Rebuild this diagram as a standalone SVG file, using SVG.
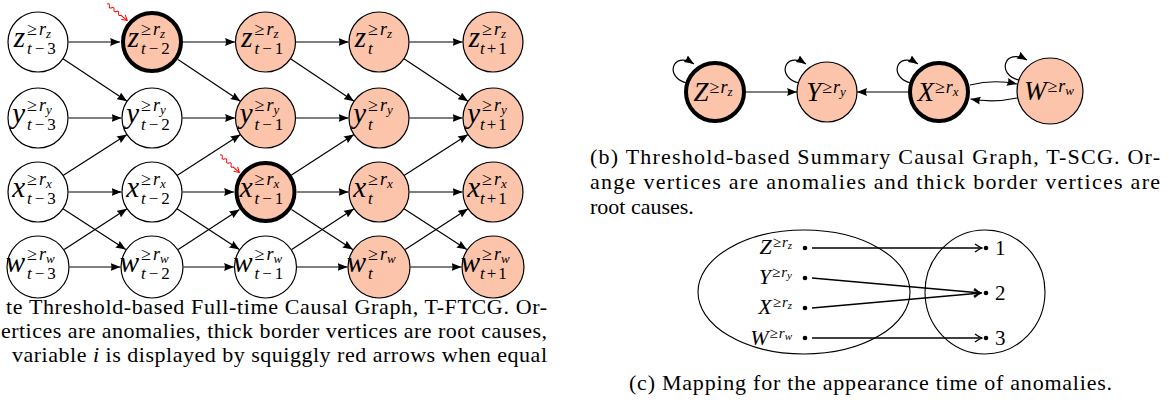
<svg xmlns="http://www.w3.org/2000/svg" width="1171" height="408" viewBox="0 0 1171 408">
<style>
text{font-family:"Liberation Serif","DejaVu Serif",serif;fill:#000}
.i{font-style:italic}
.m{font-style:italic;font-size:29px}
.sp{font-size:18px}
.sb{font-size:17px}
.cap{font-size:22px}
.nd{stroke:#000;stroke-width:1.2}
.an{fill:#fbc4ab}
.wh{fill:#fff}
.rc{stroke-width:4}
.e{stroke:#000;stroke-width:1.2;fill:none;marker-end:url(#ar)}
.e2{stroke:#000;stroke-width:1.5;fill:none;marker-end:url(#to)}
.sq{stroke:#f00;stroke-width:1;fill:none}
</style>
<defs>
<marker id="ar" viewBox="0 0 10 8" refX="10" refY="4" markerWidth="10" markerHeight="8" markerUnits="userSpaceOnUse" orient="auto"><path d="M0,0 L10,4 L0,8 Q2,4 0,0 z" fill="#000"/></marker>
<marker id="to" viewBox="0 0 9 10" refX="8" refY="5" markerWidth="9" markerHeight="10" markerUnits="userSpaceOnUse" orient="auto"><path d="M1,1 Q5,4 8,5 Q5,6 1,9" fill="none" stroke="#000" stroke-width="1.3"/></marker>
</defs>

<!-- Panel (a) connectors -->
<g id="edges-a">
<path class="e" d="M68.5,42 L120,42"/><path class="e" d="M183,42 L235,42"/><path class="e" d="M296,42 L348.5,42"/><path class="e" d="M409.5,42 L462.5,42"/>
<path class="e" d="M68.5,118 L121.5,118"/><path class="e" d="M182.5,118 L235,118"/><path class="e" d="M296,118 L348.5,118"/><path class="e" d="M409.5,118 L462.5,118"/>
<path class="e" d="M68.5,192 L121.5,192"/><path class="e" d="M182.5,192 L234,192"/><path class="e" d="M297,192 L348.5,192"/><path class="e" d="M409.5,192 L462.5,192"/>
<path class="e" d="M69.5,267 L120.5,267"/><path class="e" d="M183.5,267 L234,267"/><path class="e" d="M297,267 L347.5,267"/><path class="e" d="M410.5,267 L461.5,267"/>
<path class="e" d="M63,58.7 L127,101.3"/><path class="e" d="M178,59.5 L240.5,101.3"/><path class="e" d="M290.5,58.7 L354,101.3"/><path class="e" d="M404,58.7 L468,101.3"/>
<path class="e" d="M63,175.6 L127,134.4"/><path class="e" d="M177,175.6 L240.5,134.4"/><path class="e" d="M291.5,175 L354,134.4"/><path class="e" d="M404,175.6 L468,134.4"/>
<path class="e" d="M63,208.7 L125.8,249.6"/><path class="e" d="M177,208.7 L239.4,249.6"/><path class="e" d="M291.5,209.5 L352.8,249.6"/><path class="e" d="M404,208.7 L466.8,249.6"/>
<path class="e" d="M64.2,249.6 L127,208.7"/><path class="e" d="M178.2,249.6 L239.5,209.5"/><path class="e" d="M291.7,249.6 L354,208.7"/><path class="e" d="M405.2,249.6 L468,208.7"/>
<g transform="translate(107,4) rotate(39)"><path class="sq" d="M0,0 q1.5,-2.6 3,0 t3,0 t3,0 t3,0 t3,0 t3,0 l8,0"/><path class="sq" d="M21,-3 L26,0 L21,3"/></g>
<g transform="translate(220,155) rotate(42)"><path class="sq" d="M0,0 q1.5,-2.6 3,0 t3,0 t3,0 t3,0 t3,0 t3,0 l8,0"/><path class="sq" d="M21,-3 L26,0 L21,3"/></g>
</g>

<!-- Panel (a) nodes -->
<g id="z-t-3"><circle class="nd wh" cx="38" cy="42" r="30"/><text class="m" x="25" y="47" text-anchor="end">z</text><text class="sp" x="27" y="35">≥<tspan class="i" dx="2">r</tspan><tspan class="i" font-size="13" dy="3">z</tspan></text><text class="sb" x="27" y="54"><tspan class="i">t</tspan><tspan dx="3">−</tspan><tspan dx="3">3</tspan></text></g>
<g id="z-t-2"><circle class="nd an rc" cx="152" cy="42" r="29"/><text class="m" x="139" y="47" text-anchor="end">z</text><text class="sp" x="141" y="35">≥<tspan class="i" dx="2">r</tspan><tspan class="i" font-size="13" dy="3">z</tspan></text><text class="sb" x="141" y="54"><tspan class="i">t</tspan><tspan dx="3">−</tspan><tspan dx="3">2</tspan></text></g>
<g id="z-t-1"><circle class="nd an" cx="265.5" cy="42" r="30"/><text class="m" x="252.5" y="47" text-anchor="end">z</text><text class="sp" x="254.5" y="35">≥<tspan class="i" dx="2">r</tspan><tspan class="i" font-size="13" dy="3">z</tspan></text><text class="sb" x="254.5" y="54"><tspan class="i">t</tspan><tspan dx="3">−</tspan><tspan dx="3">1</tspan></text></g>
<g id="z-t"><circle class="nd an" cx="379" cy="42" r="30"/><text class="m" x="366" y="47" text-anchor="end">z</text><text class="sp" x="368" y="35">≥<tspan class="i" dx="2">r</tspan><tspan class="i" font-size="13" dy="3">z</tspan></text><text class="sb i" x="368" y="54">t</text></g>
<g id="z-t+1"><circle class="nd an" cx="493" cy="42" r="30"/><text class="m" x="480" y="47" text-anchor="end">z</text><text class="sp" x="482" y="35">≥<tspan class="i" dx="2">r</tspan><tspan class="i" font-size="13" dy="3">z</tspan></text><text class="sb" x="480" y="54"><tspan class="i">t</tspan><tspan dx="2">+</tspan><tspan dx="2">1</tspan></text></g>

<g id="y-t-3"><circle class="nd wh" cx="38" cy="118" r="30"/><text class="m" x="25" y="123" text-anchor="end">y</text><text class="sp" x="27" y="111">≥<tspan class="i" dx="2">r</tspan><tspan class="i" font-size="13" dy="3">y</tspan></text><text class="sb" x="27" y="130"><tspan class="i">t</tspan><tspan dx="3">−</tspan><tspan dx="3">3</tspan></text></g>
<g id="y-t-2"><circle class="nd wh" cx="152" cy="118" r="30"/><text class="m" x="139" y="123" text-anchor="end">y</text><text class="sp" x="141" y="111">≥<tspan class="i" dx="2">r</tspan><tspan class="i" font-size="13" dy="3">y</tspan></text><text class="sb" x="141" y="130"><tspan class="i">t</tspan><tspan dx="3">−</tspan><tspan dx="3">2</tspan></text></g>
<g id="y-t-1"><circle class="nd an" cx="265.5" cy="118" r="30"/><text class="m" x="252.5" y="123" text-anchor="end">y</text><text class="sp" x="254.5" y="111">≥<tspan class="i" dx="2">r</tspan><tspan class="i" font-size="13" dy="3">y</tspan></text><text class="sb" x="254.5" y="130"><tspan class="i">t</tspan><tspan dx="3">−</tspan><tspan dx="3">1</tspan></text></g>
<g id="y-t"><circle class="nd an" cx="379" cy="118" r="30"/><text class="m" x="366" y="123" text-anchor="end">y</text><text class="sp" x="368" y="111">≥<tspan class="i" dx="2">r</tspan><tspan class="i" font-size="13" dy="3">y</tspan></text><text class="sb i" x="368" y="130">t</text></g>
<g id="y-t+1"><circle class="nd an" cx="493" cy="118" r="30"/><text class="m" x="480" y="123" text-anchor="end">y</text><text class="sp" x="482" y="111">≥<tspan class="i" dx="2">r</tspan><tspan class="i" font-size="13" dy="3">y</tspan></text><text class="sb" x="480" y="130"><tspan class="i">t</tspan><tspan dx="2">+</tspan><tspan dx="2">1</tspan></text></g>

<g id="x-t-3"><circle class="nd wh" cx="38" cy="192" r="30"/><text class="m" x="25" y="197" text-anchor="end">x</text><text class="sp" x="27" y="185">≥<tspan class="i" dx="2">r</tspan><tspan class="i" font-size="13" dy="3">x</tspan></text><text class="sb" x="27" y="204"><tspan class="i">t</tspan><tspan dx="3">−</tspan><tspan dx="3">3</tspan></text></g>
<g id="x-t-2"><circle class="nd wh" cx="152" cy="192" r="30"/><text class="m" x="139" y="197" text-anchor="end">x</text><text class="sp" x="141" y="185">≥<tspan class="i" dx="2">r</tspan><tspan class="i" font-size="13" dy="3">x</tspan></text><text class="sb" x="141" y="204"><tspan class="i">t</tspan><tspan dx="3">−</tspan><tspan dx="3">2</tspan></text></g>
<g id="x-t-1"><circle class="nd an rc" cx="265.5" cy="192" r="29"/><text class="m" x="252.5" y="197" text-anchor="end">x</text><text class="sp" x="254.5" y="185">≥<tspan class="i" dx="2">r</tspan><tspan class="i" font-size="13" dy="3">x</tspan></text><text class="sb" x="254.5" y="204"><tspan class="i">t</tspan><tspan dx="3">−</tspan><tspan dx="3">1</tspan></text></g>
<g id="x-t"><circle class="nd an" cx="379" cy="192" r="30"/><text class="m" x="366" y="197" text-anchor="end">x</text><text class="sp" x="368" y="185">≥<tspan class="i" dx="2">r</tspan><tspan class="i" font-size="13" dy="3">x</tspan></text><text class="sb i" x="368" y="204">t</text></g>
<g id="x-t+1"><circle class="nd an" cx="493" cy="192" r="30"/><text class="m" x="480" y="197" text-anchor="end">x</text><text class="sp" x="482" y="185">≥<tspan class="i" dx="2">r</tspan><tspan class="i" font-size="13" dy="3">x</tspan></text><text class="sb" x="480" y="204"><tspan class="i">t</tspan><tspan dx="2">+</tspan><tspan dx="2">1</tspan></text></g>

<g id="w-t-3"><circle class="nd wh" cx="38" cy="267" r="31"/><text class="m" x="25" y="272" text-anchor="end">w</text><text class="sp" x="27" y="260">≥<tspan class="i" dx="2">r</tspan><tspan class="i" font-size="13" dy="3">w</tspan></text><text class="sb" x="27" y="279"><tspan class="i">t</tspan><tspan dx="3">−</tspan><tspan dx="3">3</tspan></text></g>
<g id="w-t-2"><circle class="nd wh" cx="152" cy="267" r="31"/><text class="m" x="139" y="272" text-anchor="end">w</text><text class="sp" x="141" y="260">≥<tspan class="i" dx="2">r</tspan><tspan class="i" font-size="13" dy="3">w</tspan></text><text class="sb" x="141" y="279"><tspan class="i">t</tspan><tspan dx="3">−</tspan><tspan dx="3">2</tspan></text></g>
<g id="w-t-1"><circle class="nd wh" cx="265.5" cy="267" r="31"/><text class="m" x="252.5" y="272" text-anchor="end">w</text><text class="sp" x="254.5" y="260">≥<tspan class="i" dx="2">r</tspan><tspan class="i" font-size="13" dy="3">w</tspan></text><text class="sb" x="254.5" y="279"><tspan class="i">t</tspan><tspan dx="3">−</tspan><tspan dx="3">1</tspan></text></g>
<g id="w-t"><circle class="nd an" cx="379" cy="267" r="31"/><text class="m" x="366" y="272" text-anchor="end">w</text><text class="sp" x="368" y="260">≥<tspan class="i" dx="2">r</tspan><tspan class="i" font-size="13" dy="3">w</tspan></text><text class="sb i" x="368" y="279">t</text></g>
<g id="w-t+1"><circle class="nd an" cx="493" cy="267" r="31"/><text class="m" x="480" y="272" text-anchor="end">w</text><text class="sp" x="482" y="260">≥<tspan class="i" dx="2">r</tspan><tspan class="i" font-size="13" dy="3">w</tspan></text><text class="sb" x="480" y="279"><tspan class="i">t</tspan><tspan dx="2">+</tspan><tspan dx="2">1</tspan></text></g>

<!-- Caption (a) -->
<g id="caption-a">
<text class="cap" x="547" y="314" text-anchor="end" textLength="541" lengthAdjust="spacing">te Threshold-based Full-time Causal Graph, T-FTCG. Or-</text>
<text class="cap" x="547" y="338" text-anchor="end" textLength="546" lengthAdjust="spacing">ertices are anomalies, thick border vertices are root causes,</text>
<text class="cap" x="547" y="362" text-anchor="end" textLength="535" lengthAdjust="spacing">variable <tspan class="i">i</tspan> is displayed by squiggly red arrows when equal</text>
</g>

<!-- Panel (b) connectors -->
<g id="edges-b">
<path class="e" d="M687,83 C664,78 672,50 694,64"/>
<path class="e" d="M799,83 C776,78 784,50 806,64"/>
<path class="e" d="M911,83 C888,78 896,50 918,64"/>
<path class="e" d="M1019,80 C996,75 1004,47 1027,60"/>
<path class="e" d="M746,92 L797,92"/>
<path class="e" d="M908,92 L857,92"/>
<path class="e" d="M970,85 Q994,79 1017,84"/>
<path class="e" d="M1017,98 Q994,103 970.5,99"/>
</g>
<!-- Panel (b) nodes -->
<g id="Z"><circle class="nd an rc" cx="715" cy="92" r="29"/><text x="713" y="101" text-anchor="middle"><tspan class="i" font-size="27">Z</tspan><tspan font-size="18" dy="-8" dx="1">≥</tspan><tspan class="i" font-size="18" dx="1">r</tspan><tspan class="i" font-size="13" dy="3">z</tspan></text></g>
<g id="Y"><circle class="nd an" cx="827" cy="92" r="30"/><text x="826" y="101" text-anchor="middle"><tspan class="i" font-size="27">Y</tspan><tspan font-size="18" dy="-8" dx="1">≥</tspan><tspan class="i" font-size="18" dx="1">r</tspan><tspan class="i" font-size="13" dy="3">y</tspan></text></g>
<g id="X"><circle class="nd an rc" cx="939" cy="92" r="29"/><text x="938" y="101" text-anchor="middle"><tspan class="i" font-size="27">X</tspan><tspan font-size="18" dy="-8" dx="1">≥</tspan><tspan class="i" font-size="18" dx="1">r</tspan><tspan class="i" font-size="13" dy="3">x</tspan></text></g>
<g id="W"><circle class="nd an" cx="1050" cy="91" r="33"/><text x="1049" y="100" text-anchor="middle"><tspan class="i" font-size="27">W</tspan><tspan font-size="18" dy="-8" dx="1">≥</tspan><tspan class="i" font-size="18" dx="1">r</tspan><tspan class="i" font-size="13" dy="3">w</tspan></text></g>

<!-- Caption (b) -->
<g id="caption-b">
<text class="cap" x="590" y="164" textLength="570" lengthAdjust="spacing">(b) Threshold-based Summary Causal Graph, T-SCG. Or-</text>
<text class="cap" x="590" y="189" textLength="570" lengthAdjust="spacing">ange vertices are anomalies and thick border vertices are</text>
<text class="cap" x="590" y="214">root causes.</text>
</g>

<!-- Panel (c) -->
<g id="sets">
<ellipse cx="804" cy="292" rx="106" ry="62" fill="none" stroke="#000" stroke-width="1.1"/>
<ellipse cx="985" cy="292" rx="60" ry="62" fill="none" stroke="#000" stroke-width="1.1"/>
</g>
<g id="domain">
<circle cx="805" cy="248" r="2.3"/><circle cx="805" cy="278" r="2.3"/><circle cx="805" cy="308" r="2.3"/><circle cx="805" cy="338" r="2.3"/>
<text x="792" y="254" text-anchor="end"><tspan class="i" font-size="22">Z</tspan><tspan font-size="15" dy="-7" dx="1">≥</tspan><tspan class="i" font-size="15" dx="1">r</tspan><tspan class="i" font-size="11" dy="2">z</tspan></text>
<text x="792" y="284" text-anchor="end"><tspan class="i" font-size="22">Y</tspan><tspan font-size="15" dy="-7" dx="1">≥</tspan><tspan class="i" font-size="15" dx="1">r</tspan><tspan class="i" font-size="11" dy="2">y</tspan></text>
<text x="792" y="314" text-anchor="end"><tspan class="i" font-size="22">X</tspan><tspan font-size="15" dy="-7" dx="1">≥</tspan><tspan class="i" font-size="15" dx="1">r</tspan><tspan class="i" font-size="11" dy="2">z</tspan></text>
<text x="792" y="345" text-anchor="end"><tspan class="i" font-size="22">W</tspan><tspan font-size="15" dy="-7" dx="1">≥</tspan><tspan class="i" font-size="15" dx="1">r</tspan><tspan class="i" font-size="11" dy="2">w</tspan></text>
</g>
<g id="codomain">
<circle cx="986" cy="248" r="2.3"/><circle cx="986" cy="293" r="2.3"/><circle cx="986" cy="338" r="2.3"/>
<text x="995" y="255" font-size="21">1</text>
<text x="995" y="300" font-size="21">2</text>
<text x="995" y="345" font-size="21">3</text>
</g>
<g id="edges-c">
<path class="e2" d="M812,248 L982,248"/>
<path class="e2" d="M812,278 L981,293"/>
<path class="e2" d="M812,308 L981,293"/>
<path class="e2" d="M812,338 L982,338"/>
</g>

<!-- Caption (c) -->
<text class="cap" x="629" y="390" textLength="483" lengthAdjust="spacing">(c) Mapping for the appearance time of anomalies.</text>
</svg>
